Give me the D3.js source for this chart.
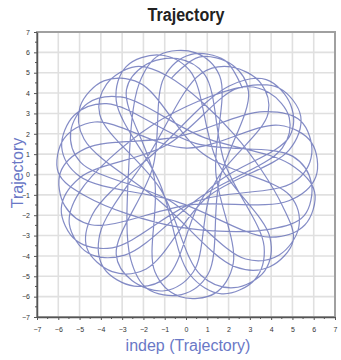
<!DOCTYPE html>
<html>
<head>
<meta charset="utf-8">
<script src="https://cdn.jsdelivr.net/npm/d3@7"></script>
<style>
  body { margin: 0; background: #fff; }
  svg { display: block; }
  text { font-family: "Liberation Sans", Arial, sans-serif; }
</style>
</head>
<body>
<div id="chart"></div>
<script>
// trajectory: each outer loop (4 points) then the point where
// the chord passes closest to the middle
const trajX = [
  2.65, 1.82, 0.21, -1.02, -1.55,
  -3.28, -2.54, -1.01, 0.34, 1.28,
  3.86, 3.51, 2.14, 0.70, -1.71,
  -4.05, -3.86, -2.44, -0.89, 1.00,
  4.86, 4.91, 3.77, 2.03, -1.26,
  -4.39, -4.65, -3.47, -1.87, 0.98,
  4.85, 5.39, 4.39, 2.70, -1.62,
  -5.02, -5.48, -4.60, -2.88, 0.75,
  4.52, 4.85, 3.89, 2.45, -0.88,
  -5.00, -5.86, -5.17, -3.47, 0.50,
  5.09, 5.91, 5.39, 3.68, -0.41,
  -4.73, -5.90, -5.70, -4.46, 0.18,
  4.83, 6.10, 5.89, 4.37, 0.02,
  -4.29, -5.74, -6.00, -4.68, -0.47,
  3.98, 5.55, 5.89, 5.02, 0.45,
  -3.73, -5.25, -5.84, -5.00, -0.44,
  3.94, 5.58, 6.04, 4.88, 0.77,
  -3.08, -4.63, -5.42, -4.96, -0.78,
  2.80, 4.38, 5.30, 4.89, 0.80,
  -2.19, -3.86, -4.97, -4.79, -1.19,
  2.32, 3.94, 5.03, 4.54, 2.28,
  -0.85, -2.36, -3.73, -4.05, -1.20,
  0.70, 2.25, 3.70, 3.94, 1.45,
  0.18, -1.25, -2.81, -3.28, -1.21,
  0.17, 1.68, 3.23, 3.67, 1.81,
  0.87, -0.40, -1.95, -2.80, -1.48,
  -1.46, -0.31, 1.35, 2.22, 1.40,
  1.58, 0.42, -1.25, -2.19, -2.70,
  -2.60, -1.82, -0.21, 1.04, 1.56,
  2.94, 2.18, 0.61, -0.67
];
const trajY = [
  4.24, 5.61, 5.89, 4.79, 0.39,
  -3.91, -5.21, -5.71, -4.79, -0.57,
  3.02, 4.49, 5.28, 4.95, 1.03,
  -2.94, -4.60, -5.48, -5.02, -0.83,
  1.86, 3.44, 4.66, 4.35, 1.28,
  -1.95, -3.63, -4.77, -4.64, -1.13,
  1.21, 2.86, 4.24, 4.32, 2.40,
  -0.89, -2.44, -3.86, -3.96, -1.06,
  1.30, 2.80, 4.03, 4.24, 1.46,
  -0.17, -1.68, -3.23, -3.60, -1.31,
  -0.36, 1.04, 2.63, 3.09, 1.85,
  1.27, 0.10, -1.53, -2.47, -1.49,
  -1.29, -0.11, 1.58, 2.42, 1.30,
  2.58, 1.75, 0.10, -1.08, -2.56,
  -2.68, -2.02, -0.41, 0.89, 1.53,
  3.48, 2.91, 1.35, -0.09, -1.33,
  -3.08, -2.48, -0.85, 0.51, 1.85,
  3.81, 3.49, 2.08, 0.61, -1.28,
  -4.15, -3.95, -2.58, -1.04, 1.02,
  4.50, 4.60, 3.35, 1.74, -1.35,
  -4.54, -4.53, -3.27, -1.56, 1.95,
  4.83, 5.30, 4.44, 2.94, -0.72,
  -4.95, -5.56, -4.73, -3.08, 0.68,
  5.10, 5.87, 5.30, 3.64, -0.49,
  -4.90, -5.86, -5.17, -3.54, 0.59,
  4.92, 5.69, 5.36, 4.15, -0.22,
  -4.78, -5.99, -5.84, -4.37, 0.11,
  4.85, 5.99, 5.87, 4.50, 0.14,
  -4.16, -5.61, -5.90, -4.89, -0.33,
  4.05, 5.38, 5.77, 4.75
];

const xTicks = d3.range(-7, 8);
const yTicks = d3.range(-7, 8);
const xMinor = d3.range(-6.5, 7, 1);
const yMinor = d3.range(-6.5, 7, 1);

const title = 'Trajectory';
const xTitle = 'indep (Trajectory)';
const yTitle = 'Trajectory';

const width = 341, height = 360;
const margin = {top: 32, right: 6, bottom: 43, left: 37};

const svg = d3.select('#chart')
  .append('svg')
  .attr('width', width)
  .attr('height', height);

const x = d3.scaleLinear()
  .domain([-7, 7])
  .range([margin.left, width - margin.right]);

const y = d3.scaleLinear()
  .domain([-7, 7])
  .range([height - margin.bottom, margin.top]);

// grid
const grid = svg.append('g');
grid.selectAll('.vg')
  .data(xTicks.slice(1, -1))
  .enter().append('line')
  .attr('x1', d => x(d)).attr('x2', d => x(d))
  .attr('y1', y(7)).attr('y2', y(-7))
  .attr('stroke', '#e0e0e0')
  .attr('stroke-width', 1.6);
grid.selectAll('.hg')
  .data(yTicks.slice(1, -1))
  .enter().append('line')
  .attr('y1', d => y(d)).attr('y2', d => y(d))
  .attr('x1', x(-7)).attr('x2', x(7))
  .attr('stroke', '#e0e0e0')
  .attr('stroke-width', 1.6);

// trajectory
const pts = trajX.map((v, i) => [v, trajY[i]]);
const line = d3.line()
  .x(d => x(d[0]))
  .y(d => y(d[1]))
  .curve(d3.curveCatmullRom);

svg.append('path')
  .datum(pts)
  .attr('fill', 'none')
  .attr('stroke', '#5560b0')
  .attr('stroke-opacity', 0.72)
  .attr('stroke-width', 1.2)
  .attr('d', line);

// frame (top / right)
svg.append('rect')
  .attr('x', x(-7))
  .attr('y', y(7))
  .attr('width', x(7) - x(-7))
  .attr('height', y(-7) - y(7))
  .attr('fill', 'none')
  .attr('stroke', '#a0a0a0')
  .attr('stroke-width', 2);

// axes
const xAxis = svg.append('g')
  .attr('transform', 'translate(0,' + y(-7) + ')')
  .call(d3.axisBottom(x).tickValues(xTicks).tickSize(3).tickPadding(7).tickSizeOuter(0));
xAxis.append('g').selectAll('line')
  .data(xMinor)
  .enter().append('line')
  .attr('x1', d => x(d)).attr('x2', d => x(d))
  .attr('y1', 0).attr('y2', 2)
  .attr('stroke', '#555');

const yAxis = svg.append('g')
  .attr('transform', 'translate(' + x(-7) + ',0)')
  .call(d3.axisLeft(y).tickValues(yTicks).tickSize(3).tickPadding(4).tickSizeOuter(0));
yAxis.append('g').selectAll('line')
  .data(yMinor)
  .enter().append('line')
  .attr('y1', d => y(d)).attr('y2', d => y(d))
  .attr('x1', 0).attr('x2', -2)
  .attr('stroke', '#555');

[xAxis, yAxis].forEach(a => {
  a.select('.domain').attr('stroke', '#555').attr('stroke-width', 1.5);
  a.selectAll('.tick line').attr('stroke', '#555');
  a.selectAll('.tick text')
    .attr('font-family', '"Liberation Sans", Arial, sans-serif')
    .attr('font-size', 7)
    .attr('fill', '#333');
});

// titles
svg.append('text')
  .attr('transform', 'translate(' + ((x(-7) + x(7)) / 2) + ',21) scale(0.87,1)')
  .attr('text-anchor', 'middle')
  .attr('font-size', 18.5)
  .attr('font-weight', 'bold')
  .attr('fill', '#222')
  .text(title);

svg.append('text')
  .attr('x', (x(-7) + x(7)) / 2 + 2)
  .attr('y', 351)
  .attr('text-anchor', 'middle')
  .attr('font-size', 16)
  .attr('fill', '#6a78c6')
  .text(xTitle);

svg.append('text')
  .attr('transform', 'translate(23,173) rotate(-90)')
  .attr('text-anchor', 'middle')
  .attr('font-size', 16)
  .attr('fill', '#6a78c6')
  .text(yTitle);
</script>
</body>
</html>
